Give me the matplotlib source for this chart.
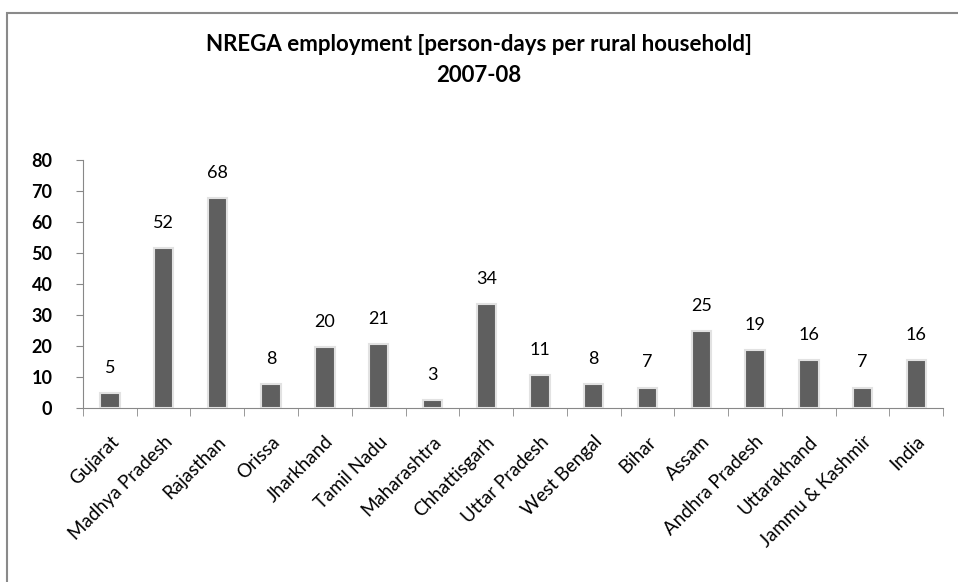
import matplotlib
matplotlib.use('Agg')
import matplotlib.pyplot as plt
from matplotlib.patches import Rectangle
import numpy as np

plt.rcParams['font.family'] = ['Lato', 'DejaVu Sans']

states = ['Gujarat', 'Madhya Pradesh', 'Rajasthan', 'Orissa', 'Jharkhand',
          'Tamil Nadu', 'Maharashtra', 'Chhattisgarh', 'Uttar Pradesh',
          'West Bengal', 'Bihar', 'Assam', 'Andhra Pradesh', 'Uttarakhand',
          'Jammu & Kashmir', 'India']
days = [4.7, 51.6, 67.7, 7.6, 19.6, 20.7, 2.6, 33.6, 10.7, 7.6, 6.6,
        24.7, 18.6, 15.6, 6.6, 15.6]
yticks = [0, 10, 20, 30, 40, 50, 60, 70, 80]

fig = plt.figure(figsize=(9.58, 5.82), dpi=100)
ax = fig.add_axes([0.0866, 0.299, 0.898, 0.426])

x = np.arange(len(states))
ax.bar(x, days, width=0.36, color='#5f5f5f', edgecolor='#e2e2e2',
       linewidth=1.5, zorder=3)
for xi, v in zip(x, days):
    ax.text(xi, v + 5.5, f"{v:.0f}", ha='center', va='bottom', fontsize=13)

ax.set_xlim(-0.5, len(states) - 0.5)
ax.set_ylim(0, 80)
ax.set_yticks(yticks)
ax.set_yticklabels([str(t) for t in yticks], fontsize=13, fontweight='bold')
ax.set_xticks(x)
ax.set_xticklabels(states, rotation=45, ha='right', rotation_mode='anchor',
                   fontsize=13.5)
ax.tick_params(axis='x', length=0, pad=18)
ax.set_xticks(np.arange(len(states) + 1) - 0.5, minor=True)
ax.tick_params(axis='x', which='minor', length=6, color='#888888', direction='out')
ax.tick_params(axis='y', length=5, color='#888888', direction='out', pad=17)

for s in ['top', 'right']:
    ax.spines[s].set_visible(False)
for s in ['left', 'bottom']:
    ax.spines[s].set_color('#888888')

fig.text(0.5, 0.923, 'NREGA employment [person-days per rural household]',
         ha='center', va='center', fontsize=16, fontweight='bold')
fig.text(0.5, 0.871, '2007-08', ha='center', va='center', fontsize=16,
         fontweight='bold')

# outer chart frame
fig.patches.append(Rectangle((7 / 958, -0.05), 1.0, 1 - 13 / 582 + 0.05,
                             transform=fig.transFigure, fill=False,
                             edgecolor='#8a8a8a', linewidth=1.5))

fig.savefig('out.png', dpi=100)
